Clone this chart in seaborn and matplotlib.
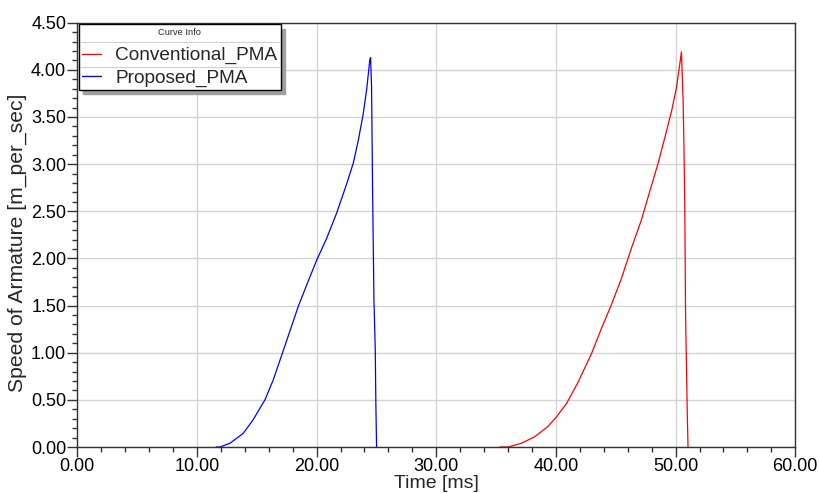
import matplotlib
matplotlib.use("Agg")
import matplotlib.pyplot as plt
from matplotlib.ticker import MultipleLocator, FormatStrFormatter
from matplotlib.lines import Line2D
import seaborn as sns
import pandas as pd

# ---- data ----
conv_time = [35.3, 36.0, 37.13, 38.24, 39.35, 40.05, 40.88, 41.86, 42.97, 43.81,
             44.64, 45.48, 46.31, 47.15, 47.84, 48.54, 49.1, 49.66, 50.07, 50.35,
             50.49, 50.63, 50.71, 50.77, 50.83, 50.91, 50.99, 51.04]
conv_speed = [0.0, 0.0, 0.04, 0.11, 0.22, 0.32, 0.46, 0.69, 0.99, 1.26,
              1.51, 1.79, 2.11, 2.41, 2.71, 3.01, 3.28, 3.56, 3.81, 4.06,
              4.19, 3.67, 3.10, 2.53, 1.44, 0.84, 0.27, 0.0]
prop_time = [11.6, 11.92, 12.76, 13.87, 14.70, 15.68, 16.37, 17.07, 17.77, 18.46,
             19.30, 20.0, 20.83, 21.67, 22.51, 23.06, 23.48, 23.89, 24.18, 24.45,
             24.51, 24.59, 24.68, 24.79, 24.9, 24.95, 25.01]
prop_speed = [0.0, 0.0, 0.04, 0.145, 0.29, 0.50, 0.71, 0.97, 1.23, 1.49,
              1.76, 1.98, 2.21, 2.48, 2.79, 3.01, 3.25, 3.53, 3.79, 4.11,
              4.13, 3.82, 2.69, 1.56, 1.03, 0.46, 0.0]
series_names = ["Conventional_PMA", "Proposed_PMA"]
series_colors = ["#ff0000", "#0000ff"]
x_label = "Time [ms]"
y_label = "Speed of Armature [m_per_sec]"
legend_title = "Curve Info"

df = pd.concat([
    pd.DataFrame({"t": conv_time, "v": conv_speed, "curve": series_names[0]}),
    pd.DataFrame({"t": prop_time, "v": prop_speed, "curve": series_names[1]}),
], ignore_index=True)

sns.set_theme(style="white")
plt.rcParams["font.family"] = ["Liberation Sans", "DejaVu Sans"]

fig = plt.figure(figsize=(8.19, 4.93), dpi=100)
ax = fig.add_axes([0.0944, 0.0933, 0.8766, 0.8607])

sns.lineplot(data=df, x="t", y="v", hue="curve", hue_order=series_names,
             palette=dict(zip(series_names, series_colors)), sort=False,
             estimator=None, linewidth=0.9, ax=ax, legend=False)

ax.set_xlim(0, 60)
ax.set_ylim(0, 4.5)
ax.xaxis.set_major_locator(MultipleLocator(10))
ax.xaxis.set_minor_locator(MultipleLocator(2))
ax.yaxis.set_major_locator(MultipleLocator(0.5))
ax.yaxis.set_minor_locator(MultipleLocator(0.1))
ax.xaxis.set_major_formatter(FormatStrFormatter("%.2f"))
ax.yaxis.set_major_formatter(FormatStrFormatter("%.2f"))

ax.grid(True, which="major", color="#d4d4d4", linewidth=1.0)
ax.set_axisbelow(True)
for s in ax.spines.values():
    s.set_visible(True)
    s.set_color("#333333")
    s.set_linewidth(1.0)

ax.tick_params(axis="both", which="major", direction="out", length=7, width=1,
               color="#333333", labelsize=13, labelcolor="black", pad=1,
               bottom=True, left=True)
ax.tick_params(axis="both", which="minor", direction="out", length=3.5, width=1,
               color="#333333", bottom=True, left=True)

ax.set_xlabel(x_label, fontsize=14, labelpad=0)
ax.set_ylabel(y_label, fontsize=15.2, labelpad=3)
ax.yaxis.label.set_y(0.482)

handles = [Line2D([0], [0], color=c, lw=1.0) for c in series_colors]
leg = ax.legend(handles, series_names, title=legend_title, loc="upper left",
                bbox_to_anchor=(0.002, 0.996), fontsize=13.7, title_fontsize=6.7,
                frameon=True, fancybox=False,
                shadow={"ox": 3.0, "oy": -3.0, "color": "#a0a0a0", "alpha": 1.0},
                edgecolor="black", framealpha=1.0, handlelength=1.0,
                handletextpad=0.75, borderpad=0.18, labelspacing=0.24,
                borderaxespad=0.0)
leg.get_frame().set_linewidth(1.0)
# a little more room between the title row and the entries
leg._legend_box.sep = 0.24 * 13.7 + 4.0

# light separators between legend rows (as in the original "Curve Info" table)
fig.canvas.draw()
r = fig.canvas.get_renderer()
fb = leg.get_frame().get_window_extent(r)
tb = leg.get_title().get_window_extent(r)
lb = [t.get_window_extent(r) for t in leg.get_texts()]
inv = fig.transFigure.inverted()
ys = [(tb.y0 + lb[0].y1) / 2, (lb[0].y0 + lb[1].y1) / 2]
for yy in ys:
    (x0, y0f) = inv.transform((fb.x0 + 1, yy))
    (x1, _) = inv.transform((fb.x1 - 1, yy))
    fig.add_artist(Line2D([x0, x1], [y0f, y0f], color="#d0d0d0", lw=0.8,
                          transform=fig.transFigure, zorder=10))

fig.savefig("out.png", dpi=100)
